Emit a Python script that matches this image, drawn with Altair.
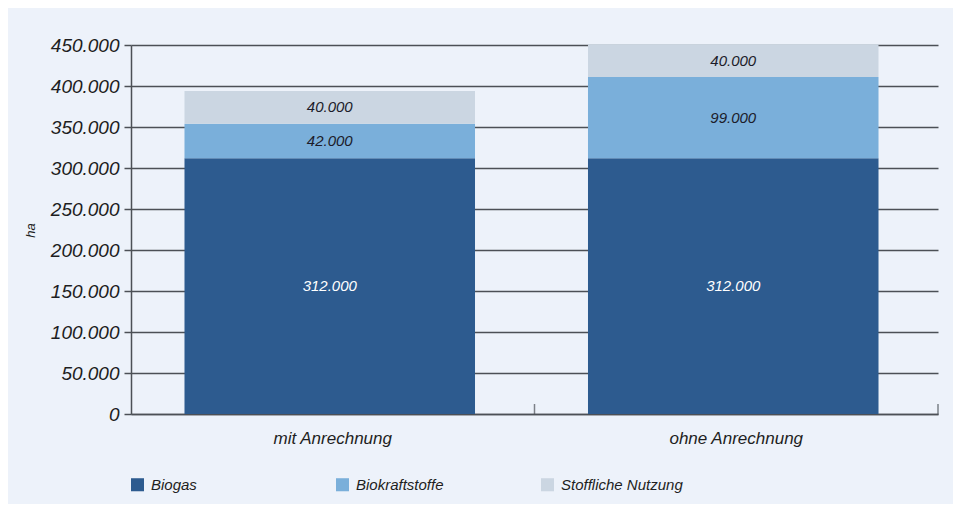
import altair as alt
import pandas as pd

categories = ["mit Anrechnung", "ohne Anrechnung"]
series = ["Biogas", "Biokraftstoffe", "Stoffliche Nutzung"]
biogas = [312000, 312000]
biokraftstoffe = [42000, 99000]
stofflich = [40000, 40000]
colors = ["#2d5b8f", "#7aafda", "#cbd6e2"]
y_ticks = [0, 50000, 100000, 150000, 200000, 250000, 300000, 350000, 400000, 450000]

rows = []
for i, c in enumerate(categories):
    for j, (s, vals) in enumerate(zip(series, [biogas, biokraftstoffe, stofflich])):
        rows.append({"cat": c, "series": s, "value": vals[i], "order": j,
                     "label": f"{vals[i]:,}".replace(",", ".")})
df = pd.DataFrame(rows)
cat_df = pd.DataFrame({"cat": categories, "base": [0, 0]})

FONT = "Liberation Sans"
LINE = "#4c5056"
TXT = "#1e1e22"

xscale = alt.Scale(paddingInner=0, paddingOuter=0)
yscale = alt.Scale(domain=[0, 450000], nice=False)

x_axis = alt.Axis(labelAngle=0, ticks=False, domainColor=LINE, domainWidth=1.5,
                  labelFont=FONT, labelFontStyle="italic", labelFontSize=17,
                  labelColor=TXT, labelPadding=16, grid=False)
y_axis = alt.Axis(values=y_ticks,
                  labelExpr="replace(format(datum.value, ','), ',', '.')",
                  title="ha", titleFont=FONT, titleFontStyle="italic",
                  titleFontWeight="normal", titleFontSize=13, titleColor=TXT,
                  titleX=-94, titleY=185, titleAngle=-90,
                  labelFont=FONT, labelFontStyle="italic", labelFontSize=19,
                  labelColor=TXT, labelPadding=5, tickSize=7, tickColor=LINE,
                  tickWidth=1.5, domainColor=LINE, domainWidth=1.5,
                  grid=True, gridColor=LINE, gridWidth=1.5)

X = alt.X("cat:N", sort=categories, title=None, scale=xscale, axis=x_axis)

bars = alt.Chart(df).mark_bar(width={"band": 0.72}, xOffset=-3).encode(
    x=X,
    y=alt.Y("value:Q", stack="zero", scale=yscale, axis=y_axis),
    color=alt.Color("series:N", sort=series, scale=alt.Scale(domain=series, range=colors),
                    legend=alt.Legend(title=None, orient="none", legendX=-1, legendY=432,
                                      direction="horizontal", columns=3, gridAlign="all",
                                      columnPadding=62, symbolType="square", symbolSize=170,
                                      symbolStrokeWidth=0, symbolOpacity=1,
                                      labelFont=FONT, labelFontStyle="italic",
                                      labelFontSize=15, labelColor=TXT, labelOffset=6)),
    order=alt.Order("order:Q"),
)

labels = alt.Chart(df).transform_stack(
    stack="value", groupby=["cat"], as_=["y0", "y1"], sort=[alt.SortField("order")]
).transform_calculate(
    mid="(datum.y0 + datum.y1) / 2"
).mark_text(font=FONT, fontStyle="italic", fontSize=15, dx=-3).encode(
    x=X,
    y=alt.Y("mid:Q", scale=yscale, axis=y_axis),
    text="label:N",
    color=alt.condition(alt.datum.series == "Biogas", alt.value("#ffffff"), alt.value("#1c1c2a")),
)

ticks = alt.Chart(cat_df).mark_tick(orient="vertical", size=10, thickness=1.5,
                                    color=LINE, yOffset=-5).encode(
    x=alt.X("cat:N", sort=categories, title=None, scale=xscale, axis=x_axis, bandPosition=1),
    y=alt.Y("base:Q", scale=yscale, axis=y_axis),
)

chart = alt.layer(bars, labels, ticks).properties(
    width=807, height=369,
    background="#edf2fa",
    padding={"left": 123, "top": 37, "right": 15, "bottom": 90},
    autosize=alt.AutoSizeParams(type="none"),
).configure_view(stroke=None)

chart.save("out.html", embed_options={"renderer": "svg", "actions": False})
